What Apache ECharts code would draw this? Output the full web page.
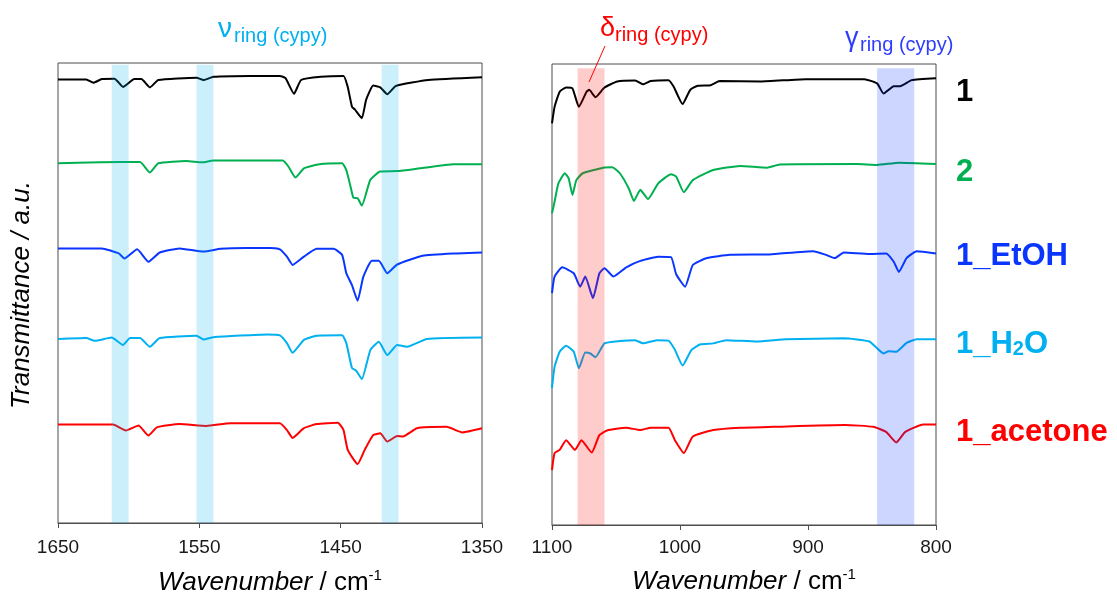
<!DOCTYPE html>
<html>
<head>
<meta charset="utf-8">
<script src="https://cdn.jsdelivr.net/npm/echarts@6/dist/echarts.min.js"></script>
<style>
  html, body { margin: 0; padding: 0; background: #ffffff; }
  #chart { width: 1117px; height: 599px; }
</style>
</head>
<body>
<div id="chart"></div>
<script>
// ---- Axis ranges (cm-1) -------------------------------------------------
const ringRange = [1350, 1650];
const lowRange = [800, 1100];
const tickStep = 100;

// ---- Samples -----------------------------------------------------------
const sampleNames = ['1', '2', '1_EtOH', '1_H2O', '1_acetone'];
const sampleColors = ['#000000', '#00b050', '#0a35ff', '#00b0f0', '#ff0000'];

// ---- Stacked IR spectra, 1650-1350 cm-1: [wavenumber, transmittance (a.u.)]
const ring_1 = [[1650,9.64],[1630,9.64],[1625,9.57],[1619,9.65],[1610,9.66],[1604,9.48],[1596,9.65],[1591,9.65],[1585,9.47],[1579,9.63],[1552,9.68],[1547,9.63],[1540,9.70],[1514,9.72],[1493,9.72],[1489,9.67],[1483,9.33],[1478,9.63],[1464,9.70],[1448,9.72],[1445,9.48],[1442,9.05],[1440,8.99],[1435,8.80],[1432,9.20],[1427,9.51],[1422,9.47],[1417,9.32],[1411,9.50],[1388,9.63],[1350,9.69]];
const ring_2 = [[1650,7.82],[1636,7.83],[1620,7.84],[1592,7.85],[1585,7.62],[1579,7.82],[1559,7.87],[1548,7.84],[1540,7.88],[1491,7.88],[1487,7.75],[1482,7.51],[1476,7.71],[1465,7.80],[1449,7.82],[1446,7.67],[1443,7.31],[1441,7.07],[1438,7.06],[1435,6.90],[1429,7.46],[1422,7.64],[1410,7.65],[1394,7.71],[1370,7.80],[1350,7.80]];
const ring_EtOH = [[1650,5.97],[1619,5.97],[1607,5.86],[1603,5.75],[1594,5.95],[1586,5.68],[1578,5.88],[1564,5.97],[1547,5.90],[1535,5.96],[1517,5.98],[1500,5.98],[1493,5.95],[1488,5.79],[1484,5.61],[1476,5.79],[1467,5.96],[1455,5.96],[1449,5.83],[1446,5.43],[1442,5.17],[1438,4.83],[1434,5.35],[1428,5.70],[1423,5.70],[1417,5.43],[1410,5.62],[1392,5.81],[1368,5.86],[1350,5.88]];
const ring_H2O = [[1650,4.00],[1630,4.02],[1624,3.96],[1612,4.03],[1604,3.87],[1599,4.02],[1592,4.02],[1585,3.83],[1578,4.02],[1552,4.07],[1547,3.99],[1540,4.04],[1502,4.10],[1493,4.08],[1488,3.91],[1484,3.70],[1476,3.98],[1467,4.07],[1449,4.08],[1446,3.91],[1442,3.37],[1439,3.31],[1435,3.13],[1429,3.76],[1423,3.94],[1417,3.65],[1410,3.87],[1403,3.83],[1389,4.00],[1350,4.03]];
const ring_acetone = [[1650,2.14],[1611,2.14],[1602,2.01],[1593,2.12],[1586,1.90],[1580,2.08],[1564,2.15],[1545,2.11],[1528,2.17],[1493,2.17],[1488,2.02],[1484,1.85],[1476,2.06],[1467,2.15],[1452,2.18],[1448,2.02],[1445,1.59],[1438,1.28],[1433,1.59],[1427,1.91],[1422,1.95],[1417,1.77],[1410,1.89],[1406,1.88],[1396,2.06],[1375,2.09],[1364,1.97],[1350,2.06]];

// ---- Stacked IR spectra, 1100-800 cm-1 ----------------------------------
const low_1 = [[1100,8.71],[1098,9.07],[1094,9.40],[1089,9.49],[1084,9.47],[1079,9.07],[1073,9.40],[1071,9.44],[1066,9.28],[1059,9.49],[1049,9.62],[1035,9.64],[1029,9.56],[1023,9.63],[1009,9.65],[1005,9.51],[998,9.13],[992,9.44],[986,9.53],[976,9.54],[969,9.63],[937,9.62],[902,9.67],[856,9.67],[846,9.58],[841,9.36],[833,9.52],[828,9.52],[819,9.65],[800,9.69]];
const low_2 = [[1100,6.76],[1098,7.01],[1095,7.41],[1090,7.63],[1087,7.52],[1084,7.16],[1081,7.48],[1076,7.63],[1060,7.75],[1053,7.76],[1047,7.63],[1040,7.30],[1036,7.03],[1031,7.27],[1025,7.07],[1017,7.41],[1007,7.61],[1003,7.56],[997,7.22],[990,7.48],[974,7.70],[953,7.79],[932,7.75],[922,7.82],[862,7.83],[846,7.81],[829,7.86],[800,7.83]];
const low_EtOH = [[1100,5.03],[1098,5.39],[1092,5.59],[1083,5.46],[1078,5.17],[1074,5.39],[1068,4.92],[1063,5.46],[1059,5.57],[1052,5.39],[1042,5.59],[1031,5.73],[1017,5.82],[1007,5.81],[1003,5.44],[996,5.17],[990,5.64],[979,5.79],[961,5.86],[930,5.87],[896,5.94],[886,5.86],[879,5.79],[872,5.91],[852,5.88],[839,5.89],[833,5.71],[829,5.49],[823,5.79],[815,5.94],[800,5.89]];
const low_H2O = [[1100,2.97],[1098,3.43],[1094,3.76],[1089,3.89],[1083,3.76],[1079,3.40],[1074,3.74],[1070,3.72],[1066,3.64],[1059,3.94],[1047,3.99],[1035,4.01],[1029,3.94],[1018,4.01],[1009,4.00],[1004,3.80],[998,3.46],[991,3.80],[984,3.92],[974,3.94],[964,4.01],[940,3.98],[917,4.03],[872,4.05],[852,3.98],[841,3.72],[837,3.77],[831,3.76],[823,3.95],[815,4.03],[800,4.03]];
const low_acetone = [[1100,1.19],[1098,1.56],[1094,1.63],[1089,1.84],[1082,1.63],[1077,1.84],[1069,1.57],[1063,1.95],[1057,2.05],[1042,2.11],[1031,2.06],[1023,2.11],[1009,2.11],[1004,1.84],[997,1.56],[990,1.92],[974,2.06],[953,2.11],[927,2.13],[871,2.17],[849,2.13],[839,2.02],[831,1.79],[824,2.02],[810,2.18],[800,2.18]];

// ---- Assigned band regions (cm-1) ---------------------------------------
const nuRingBands = [[1612, 1600], [1552, 1540], [1421, 1409]];
const deltaRingBand = [1080, 1059];
const gammaRingBand = [846, 817];

const ringSpectra = [ring_1, ring_2, ring_EtOH, ring_H2O, ring_acetone];
const lowSpectra = [low_1, low_2, low_EtOH, low_H2O, low_acetone];

const FONT = '"Liberation Sans", Arial, Helvetica, sans-serif';
const AXIS_COLOR = '#4d4d4d';

function makeXAxis(gridIndex, range, labelMargin, titleGap) {
  return {
    gridIndex: gridIndex,
    type: 'value',
    min: range[0],
    max: range[1],
    interval: tickStep,
    inverse: true,
    axisLine: { show: true, onZero: false, lineStyle: { color: AXIS_COLOR, width: 1 } },
    axisTick: { show: true, length: 5, lineStyle: { color: AXIS_COLOR } },
    axisLabel: {
      fontSize: 19, fontFamily: FONT, color: '#1a1a1a', margin: labelMargin,
      formatter: v => String(v)
    },
    splitLine: { show: false },
    name: '{i|Wavenumber} / cm{sup|-1}',
    nameLocation: 'middle',
    nameGap: titleGap,
    nameTextStyle: {
      fontFamily: FONT, fontSize: 26, color: '#000', lineHeight: 30,
      rich: {
        i: { fontFamily: FONT, fontSize: 26, fontStyle: 'italic', color: '#000', lineHeight: 30 },
        sup: { fontFamily: FONT, fontSize: 15, color: '#000', verticalAlign: 'top', lineHeight: 15 }
      }
    }
  };
}

function makeYAxis(gridIndex) {
  return { gridIndex: gridIndex, type: 'value', min: 0, max: 10, show: false };
}

function spectrumSeries(data, idx, axisIndex) {
  return {
    type: 'line',
    name: sampleNames[idx],
    xAxisIndex: axisIndex,
    yAxisIndex: axisIndex,
    data: data,
    showSymbol: false,
    symbol: 'none',
    smooth: 0.15,
    lineStyle: { color: sampleColors[idx], width: 2 },
    z: 2,
    silent: true
  };
}

// Vertical offsets of the sample labels next to the right-hand traces
const labelShift = [14, 8, 3, 5, 8];

function labelText(name) {
  return name === '1_H2O' ? '1_H{sub|2}O' : name;
}

const series = [];
ringSpectra.forEach((d, i) => series.push(spectrumSeries(d, i, 0)));
lowSpectra.forEach((d, i) => {
  const s = spectrumSeries(d, i, 1);
  s.endLabel = {
    show: true,
    formatter: () => labelText(sampleNames[i]),
    align: 'left',
    distance: 0,
    offset: [20, labelShift[i]],
    fontFamily: FONT,
    fontSize: 31,
    fontWeight: 'bold',
    lineHeight: 31,
    color: sampleColors[i],
    rich: {
      sub: { fontFamily: FONT, fontSize: 20, fontWeight: 'bold', color: sampleColors[i], verticalAlign: 'bottom', lineHeight: 19 }
    }
  };
  series.push(s);
});

function bandSeries(axisIndex, bands, color, top) {
  return {
    type: 'line',
    xAxisIndex: axisIndex,
    yAxisIndex: axisIndex,
    data: [],
    silent: true,
    z: 5,
    markArea: {
      silent: true,
      z: 5,
      itemStyle: { color: color },
      data: bands.map(b => [{ xAxis: b[0], yAxis: 0 }, { xAxis: b[1], yAxis: top }])
    }
  };
}

series.push(bandSeries(0, nuRingBands, 'rgba(0,176,240,0.2)', 9.96));
series.push(bandSeries(1, [deltaRingBand], 'rgba(255,0,0,0.2)', 9.91));
series.push(bandSeries(1, [gammaRingBand], 'rgba(0,51,255,0.2)', 9.91));

function txt(x, y, text, size, color, extra) {
  const st = Object.assign({
    text: text, x: 0, y: 0,
    font: size + 'px ' + FONT,
    fill: color,
    align: 'left', verticalAlign: 'middle',
    textAlign: 'left', textVerticalAlign: 'middle'
  }, extra || {});
  return { type: 'text', x: x, y: y, style: st, silent: true, z: 20 };
}

const graphics = [
  // band assignments
  txt(218, 29, 'ν', 28, '#00b0f0'),
  txt(234, 36, 'ring (cypy)', 20, '#00b0f0'),
  txt(600, 29, 'δ', 27, '#ff0000'),
  txt(615, 35, 'ring (cypy)', 20, '#ff0000'),
  txt(845, 39, 'γ', 27, '#2f3dff'),
  txt(860, 45, 'ring (cypy)', 20, '#2f3dff'),
  {
    type: 'line', silent: true, z: 20,
    shape: { x1: 605, y1: 46, x2: 589, y2: 82 },
    style: { stroke: '#ff0000', lineWidth: 1 }
  },
  // y-axis title
  {
    type: 'text', x: 22, y: 295, rotation: Math.PI / 2, silent: true, z: 20,
    style: {
      text: 'Transmittance / a.u.',
      font: 'italic 26px ' + FONT,
      fill: '#000',
      align: 'center', verticalAlign: 'middle',
      textAlign: 'center', textVerticalAlign: 'middle'
    }
  }
];

const chart = echarts.init(document.getElementById('chart'), null, { renderer: 'canvas' });
chart.setOption({
  animation: false,
  backgroundColor: '#ffffff',
  grid: [
    { left: 58, top: 63, width: 424, height: 460, show: true, borderColor: AXIS_COLOR, borderWidth: 1, backgroundColor: 'transparent', containLabel: false, outerBoundsMode: 'none' },
    { left: 552, top: 64, width: 384, height: 461, show: true, borderColor: AXIS_COLOR, borderWidth: 1, backgroundColor: 'transparent', containLabel: false, outerBoundsMode: 'none' }
  ],
  xAxis: [makeXAxis(0, ringRange, 15, 45), makeXAxis(1, lowRange, 13, 42)],
  yAxis: [makeYAxis(0), makeYAxis(1)],
  series: series,
  graphic: { elements: graphics }
});
</script>
</body>
</html>
